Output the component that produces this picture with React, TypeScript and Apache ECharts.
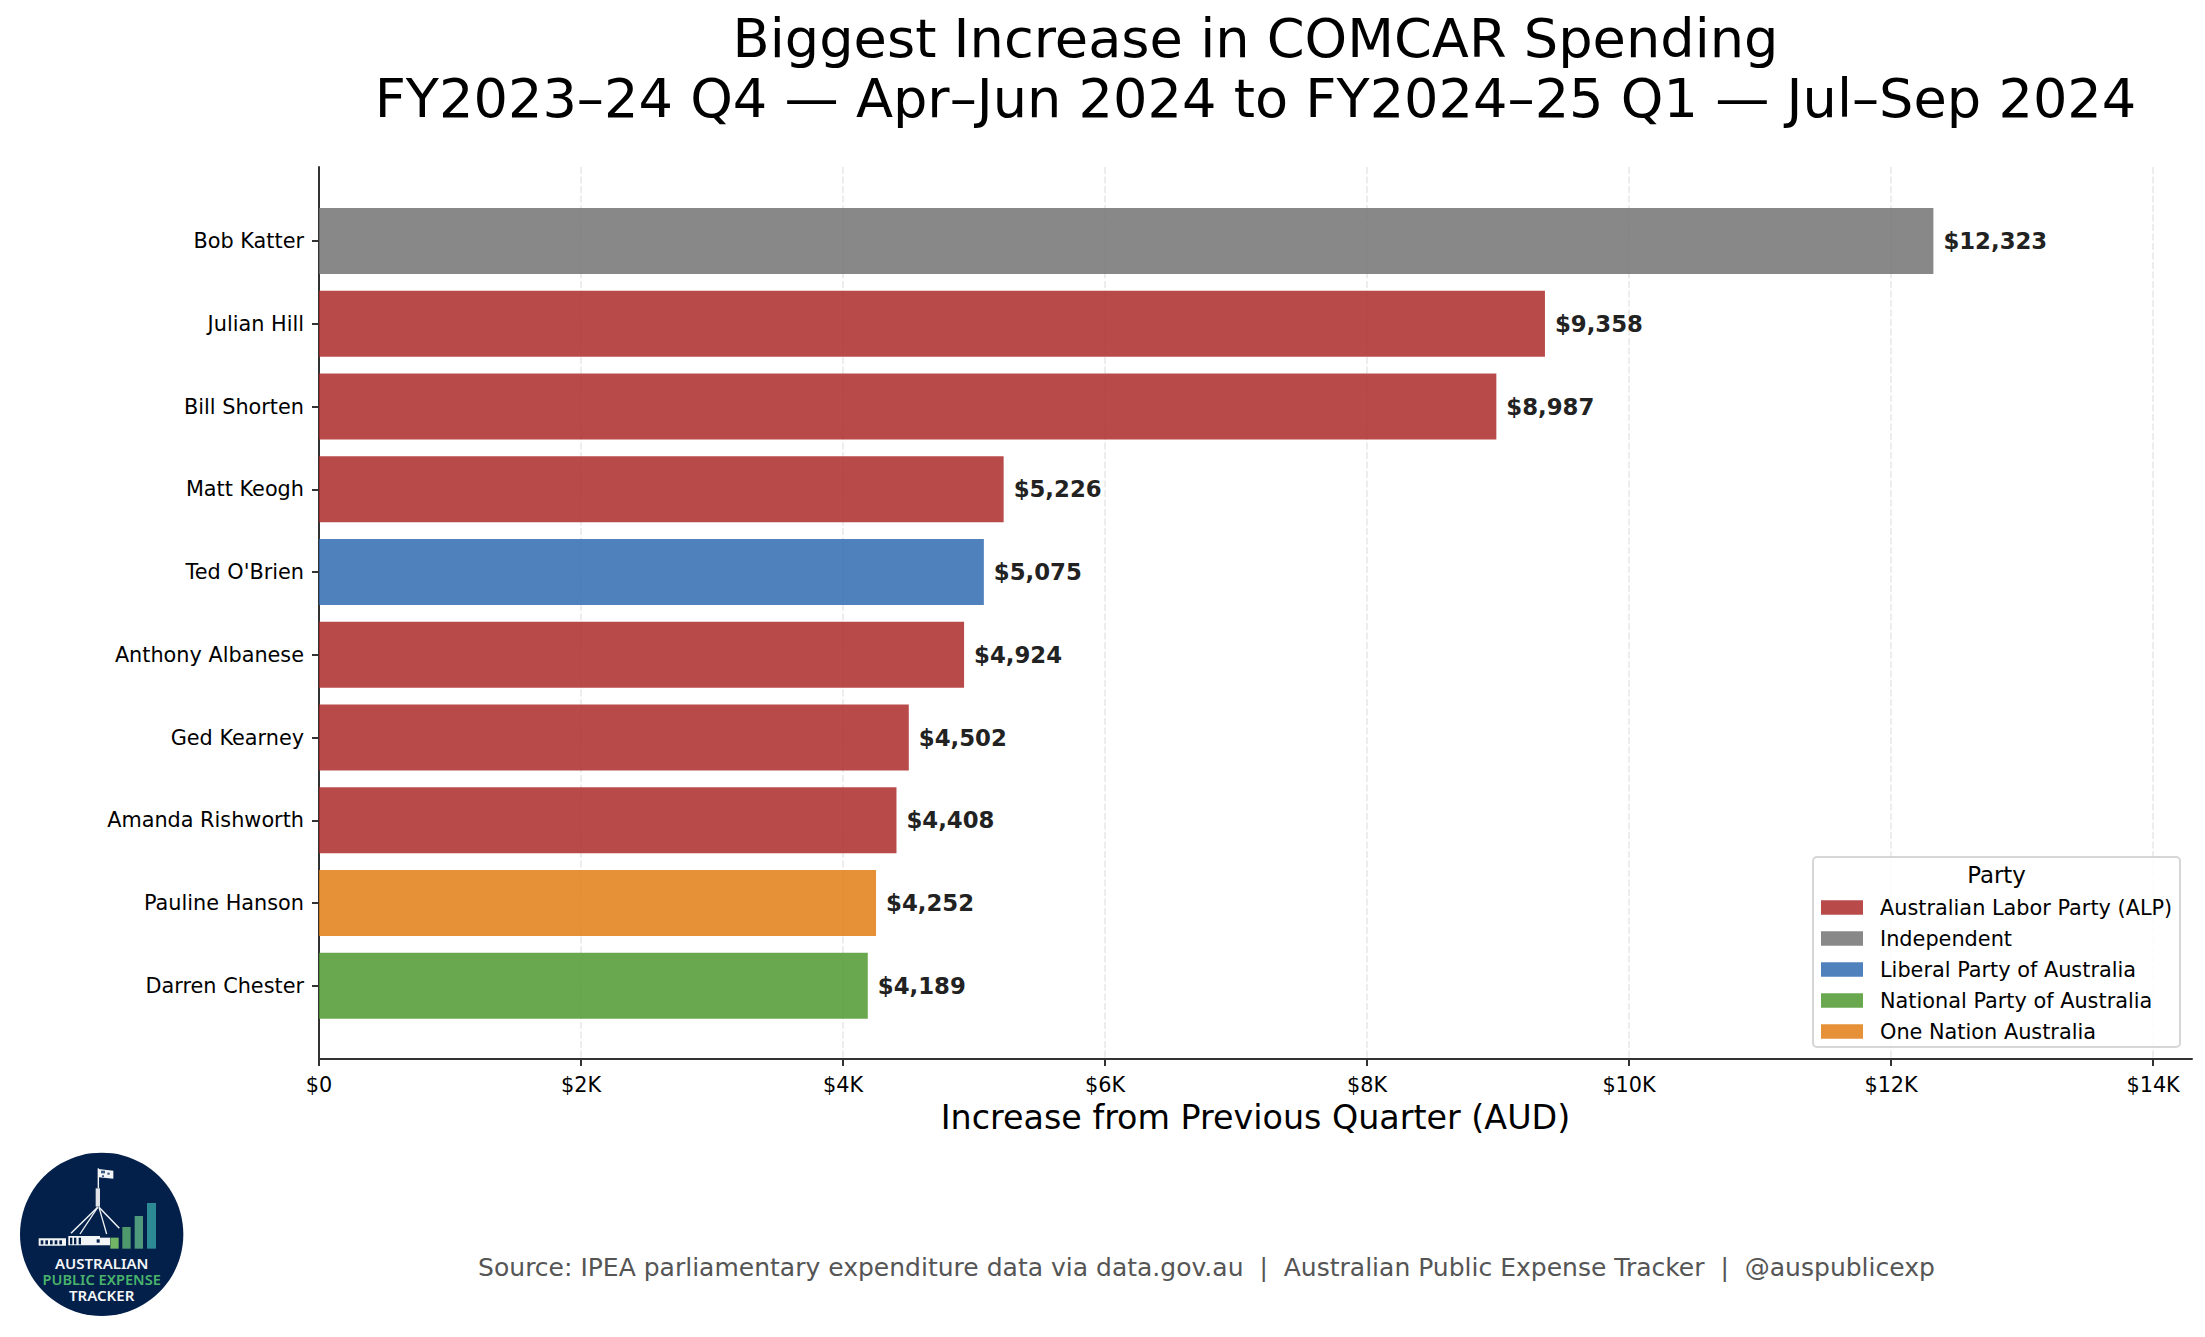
import React, { useEffect, useRef } from "react";
import * as echarts from "echarts";

const names = ["Bob Katter", "Julian Hill", "Bill Shorten", "Matt Keogh", "Ted O'Brien", "Anthony Albanese", "Ged Kearney", "Amanda Rishworth", "Pauline Hanson", "Darren Chester"];
const increases = [12323, 9358, 8987, 5226, 5075, 4924, 4502, 4408, 4252, 4189];
const memberParty = ["Independent", "Australian Labor Party (ALP)", "Australian Labor Party (ALP)", "Australian Labor Party (ALP)", "Liberal Party of Australia", "Australian Labor Party (ALP)", "Australian Labor Party (ALP)", "Australian Labor Party (ALP)", "One Nation Australia", "National Party of Australia"];
const parties = ["Australian Labor Party (ALP)", "Independent", "Liberal Party of Australia", "National Party of Australia", "One Nation Australia"];
const partyColors = ["rgba(173,42,42,0.85)", "rgba(115,115,115,0.85)", "rgba(48,107,177,0.85)", "rgba(80,153,48,0.85)", "rgba(226,126,21,0.85)"];
const xTicks = [0, 2000, 4000, 6000, 8000, 10000, 12000, 14000];

const FONT = "DejaVu Sans";
const X0 = 319, X1 = 2192, Y0 = 167, Y1 = 1059;
const STEP = 82.75;
const BAND_TOP = 241 - STEP / 2;
const XMAX = 14297;

const lx = (v: number) => v / 3;
const ly = (v: number) => 1100 + v / 3;
const logoRect = (x: number, y: number, w: number, h: number, fill: string) => ({
  type: "rect", z: 6, shape: { x: lx(x), y: ly(y), width: w / 3, height: h / 3 }, style: { fill },
});
const logoLine = (a: number, b: number, c: number, d: number, w: number) => ({
  type: "line", z: 6, shape: { x1: lx(a), y1: ly(b), x2: lx(c), y2: ly(d) }, style: { stroke: "#f2f4f6", lineWidth: w },
});
const logoText = (text: string, y: number, fill: string, size: number) => ({
  type: "text", z: 7, x: lx(305), y: ly(y),
  style: { text, fill, font: `600 ${size}px "Noto Sans"`, textAlign: "center", textVerticalAlign: "middle" },
});
const NAVY = "#03204a";
const logo = [
  { type: "circle", z: 6, shape: { cx: lx(305), cy: ly(403), r: 245 / 3 }, style: { fill: NAVY } },
  logoRect(331, 413, 25, 33, "#72b565"),
  logoRect(367, 381, 25, 65, "#4f9a6c"),
  logoRect(404, 348, 25, 98, "#4f9a7c"),
  logoRect(441, 309, 27, 137, "#2b8a94"),
  logoRect(116, 415, 82, 22, "#f2f4f6"),
  logoRect(205, 408, 125, 28, "#f2f4f6"),
  logoRect(122, 421, 8, 12, NAVY),
  logoRect(136, 421, 8, 12, NAVY),
  logoRect(150, 421, 8, 12, NAVY),
  logoRect(164, 421, 8, 12, NAVY),
  logoRect(178, 421, 8, 12, NAVY),
  logoRect(210, 413, 7, 20, NAVY),
  logoRect(222, 413, 7, 20, NAVY),
  logoRect(236, 413, 7, 20, NAVY),
  logoRect(290, 418, 9, 10, NAVY),
  logoRect(300, 406, 30, 7, NAVY),
  logoRect(287, 265, 13, 55, "#dfe3e8"),
  logoLine(295, 205, 295, 265, 1.4),
  logoLine(293, 322, 213, 400, 1.5),
  logoLine(293, 322, 240, 402, 1.3),
  logoLine(297, 322, 320, 402, 1.3),
  logoLine(297, 322, 358, 385, 1.5),
  { type: "polygon", z: 6, shape: { points: [[lx(296), ly(207)], [lx(340), ly(212)], [lx(340), ly(236)], [lx(296), ly(232)]] }, style: { fill: "#f2f4f6" } },
  logoRect(303, 212, 12, 8, "#3b5a86"),
  logoRect(322, 218, 7, 6, "#3b5a86"),
  logoRect(306, 226, 6, 5, "#3b5a86"),
  logoText("AUSTRALIAN", 490, "#f4f6f8", 15),
  logoText("PUBLIC EXPENSE", 538, "#49b36c", 14.6),
  logoText("TRACKER", 586, "#f4f6f8", 15),
];

export default function App() {
  const ref = useRef<HTMLDivElement>(null);
  useEffect(() => {
    document.body.style.margin = "0";
    const chart = echarts.init(ref.current!, null, { renderer: "svg" });
    chart.setOption({
      animation: false,
      backgroundColor: "#ffffff",
      textStyle: { fontFamily: FONT },
      title: {
        text: "Biggest Increase in COMCAR Spending\nFY2023–24 Q4 — Apr–Jun 2024 to FY2024–25 Q1 — Jul–Sep 2024",
        left: 1250.5, top: 3.5, textAlign: "center",
        textStyle: { fontFamily: FONT, fontSize: 54.2, fontWeight: "normal", color: "#000", lineHeight: 60 },
      },
      grid: [
        { left: X0, top: Y0, width: X1 - X0, height: Y1 - Y0 },
        { left: X0, top: BAND_TOP, width: X1 - X0, height: STEP * 10 },
      ],
      xAxis: [
        {
          type: "value", gridIndex: 0, min: 0, max: XMAX,
          name: "Increase from Previous Quarter (AUD)", nameLocation: "middle", nameGap: 42,
          nameTextStyle: { fontFamily: FONT, fontSize: 33.33, color: "#000" },
          axisLine: { show: true, lineStyle: { color: "#333", width: 2 } },
          axisTick: { show: true, length: 7, customValues: xTicks, lineStyle: { color: "#333", width: 2 } },
          axisLabel: {
            customValues: xTicks, margin: 15, fontFamily: FONT, fontSize: 20.8, color: "#000",
            formatter: (v: number) => (v === 0 ? "$0" : `$${v / 1000}K`),
          },
          splitLine: { show: true, lineStyle: { color: "#ededed", width: 2, type: [7, 2.5] } },
        },
        { type: "value", gridIndex: 1, min: 0, max: XMAX, show: false, splitLine: { show: false } },
      ],
      yAxis: [
        {
          type: "value", gridIndex: 0, min: 0, max: 1,
          axisLine: { show: true, lineStyle: { color: "#333", width: 2 } },
          axisTick: { show: false }, axisLabel: { show: false }, splitLine: { show: false },
        },
        {
          type: "category", gridIndex: 1, data: names, inverse: true,
          axisLine: { show: false },
          axisTick: { show: true, length: 7, alignWithLabel: true, lineStyle: { color: "#333", width: 2 } },
          axisLabel: { margin: 15, fontFamily: FONT, fontSize: 20.8, color: "#000", padding: [3, 0, 0, 0] },
        },
      ],
      legend: {
        left: 1821, top: 897, orient: "vertical", z: 10,
        data: parties, itemWidth: 42, itemHeight: 14.5, itemGap: 10, padding: 0, icon: "rect",
        selectedMode: false,
        textStyle: { fontFamily: FONT, fontSize: 20.83, color: "#000", lineHeight: 20, padding: [0, 0, 0, 12] },
      },
      series: parties.map((party, i) => ({
        type: "bar", name: party, xAxisIndex: 1, yAxisIndex: 1, stack: "all", barWidth: "80%",
        itemStyle: { color: partyColors[i] },
        label: {
          show: true, position: "right", distance: 10, fontFamily: FONT, fontSize: 22.8, fontWeight: "bold", color: "#222",
          padding: [0, 0, 1, 0],
          formatter: (p: any) => `$${Number(p.value).toLocaleString("en-US")}`,
        },
        data: increases.map((v, k) => (memberParty[k] === party ? v : null)),
      })),
      graphic: [
        { type: "rect", z: 8, shape: { x: 1813, y: 857, width: 367, height: 190, r: 4 }, style: { fill: "rgba(255,255,255,0.8)", stroke: "#d6d6d6", lineWidth: 2 } },
        { type: "text", z: 9, x: 1996.5, y: 875, style: { text: "Party", fill: "#000", font: `22.9px "${FONT}"`, textAlign: "center", textVerticalAlign: "middle" } },
        { type: "text", z: 9, x: 1206.5, y: 1267, style: { text: "Source: IPEA parliamentary expenditure data via data.gov.au  |  Australian Public Expense Tracker  |  @auspublicexp", fill: "#555555", font: `25.02px "${FONT}"`, textAlign: "center", textVerticalAlign: "middle" } },
        ...logo,
      ],
    });
    return () => chart.dispose();
  }, []);
  return <div ref={ref} style={{ width: 2205, height: 1337, position: "absolute", left: 0, top: 0 }} />;
}
